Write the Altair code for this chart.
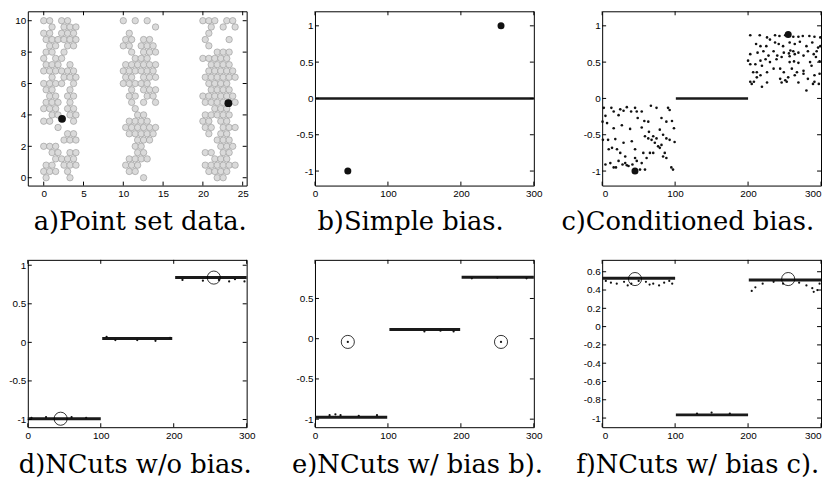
import altair as alt
import pandas as pd

W = 221
H1 = 176
H2 = 169

# ---------------- panel a: point set (occupancy of a lattice) ----
A_Y_ROWS = [10.0, 9.6, 9.2, 8.8, 8.4, 8.0, 7.6, 7.2, 6.8, 6.4, 6.0, 5.6, 5.2,
            4.8, 4.4, 4.0, 3.6, 3.2, 2.8, 2.4, 2.0, 1.6, 1.2, 0.8, 0.4, 0.0]
A_BAND_LEFT = [0, 10, 20]
A_COL_STEP = 0.75
A_ROW_SHIFT = 0.3
A_BAND_1 = ["XX.XX.", ".X.XXX", "XX.XXX", "XXXXXX", ".XX.XX", "XX.X..", "X.XX..",
            "XXX.X.", "XXXXXX", ".X.XXX", "XXXX.X", "XX..X.", ".XX.XX", "XXX.X.",
            "XXX.XX", ".XX.XX", "XX...X", "..X...", "....XX", "...XXX", "XXX...",
            ".XX.XX", "..XXXX", "XX.XXX", "XXX.X.", "X...X."]
A_BAND_2 = ["X.X.X.", ".....X", ".X....", "XX.XX.", "XX.XXX", ".X.XXX", "..XXX.",
            "XXXXXX", "XXXXXX", "XX.XXX", "XXXXX.", ".X.XXX", ".XX.XX", ".X.X.X",
            "..X...", "..XX..", ".XXXX.", "XXXXXX", ".XXXXX", "..XXX.", "..XX..",
            "..XX..", ".XXXX.", "XXX...", ".XX...", "...X.."]
A_BAND_3 = ["XXX.XX", ".X.X.X", ".X....", "X...X.", ".X....", "..XXX.", "XXXXX.",
            ".XXXX.", ".XXXXX", "XXXXXX", ".XXXX.", ".XXXX.", "XXXXXX", "XXXXXX",
            "..XXX.", "XXXXX.", "XX.XX.", "XX.XXX", ".X.XX.", "..XXX.", "...XXX",
            "XX.XX.", "..XXX.", "XXXXXX", ".XXXX.", "..XX.."]
A_BIG_X = [2.3, 23.2]
A_BIG_Y = [3.75, 4.75]

# ---------------- panel b: simple bias ----------------
B_BIG_X = [45, 255]
B_BIG_Y = [-1.0, 1.0]
B_ZERO_X1 = [0]
B_ZERO_X2 = [300]
B_ZERO_Y = [0.0]

# ---------------- panel c: conditioned bias ----------------
C_LEFT_X = [2.2, 12.6, 24.8, 33.8, 45.1, 54.2, 66.8, 74.5, 90.3, 92.5,
            4.5, 15.8, 22.5, 29.3, 39.7, 47.4, 57.8, 63.2, 81.3, 88.0, 95.7,
            0.5, 6.7, 15.8, 27.0, 38.3, 48.7, 54.2, 64.1, 70.0, 74.5, 79.0, 83.5, 98.4,
            1.0, 8.1, 18.0, 29.3, 40.6, 58.7, 63.2, 67.7, 72.2, 76.7, 81.3, 88.0, 92.5, 99.3,
            9.0, 13.5, 20.3, 24.8, 31.6, 45.1, 56.4, 65.5, 70.0, 79.0, 83.5, 85.8, 88.0,
            4.5, 11.2, 15.8, 22.5, 31.6, 33.8, 45.1, 47.4, 54.2, 51.9, 60.9, 94.8, 97.1,
            18.9, 27.9, 36.1, 41.5, 58.7]
C_LEFT_Y = [-0.13, -0.13, -0.15, -0.12, -0.13, -0.18, -0.10, -0.13, -0.13, -0.16,
            -0.24, -0.18, -0.23, -0.17, -0.18, -0.18, -0.31, -0.32, -0.27, -0.32, -0.31,
            -0.32, -0.34, -0.41, -0.37, -0.42, -0.27, -0.40, -0.46, -0.52, -0.55, -0.43, -0.50, -0.41,
            -0.57, -0.57, -0.56, -0.61, -0.59, -0.52, -0.55, -0.57, -0.61, -0.66, -0.64, -0.55, -0.57, -0.60,
            -0.70, -0.68, -0.70, -0.75, -0.80, -0.70, -0.75, -0.75, -0.75, -0.68, -0.80, -0.75, -0.82,
            -0.91, -0.89, -0.95, -0.86, -0.89, -0.92, -0.82, -0.86, -0.89, -0.98, -0.82, -0.95, -0.98,
            -0.95, -0.91, -0.93, -0.91, -0.98]
C_RIGHT_X = [203, 216, 226, 237, 243, 251, 262, 269, 275, 284, 291, 299,
             211, 217, 225, 230, 237, 242, 248, 257, 264, 271, 280, 288, 296, 299,
             203, 213, 221, 228, 235, 240, 249, 262, 264, 269, 276, 282, 290, 294,
             200, 203, 210, 217, 224, 230, 239, 246, 257, 263, 269, 285, 293, 298,
             207, 212, 219, 226, 235, 244, 249, 260, 267, 276, 287, 291, 298,
             203, 208, 212, 217, 244, 251, 255, 264, 276, 282, 291,
             205, 219, 226, 246, 253, 269, 280, 289, 297,
             258, 256, 257]
C_RIGHT_Y = [0.87, 0.87, 0.84, 0.87, 0.86, 0.87, 0.85, 0.85, 0.86, 0.86, 0.85, 0.84,
             0.75, 0.72, 0.72, 0.81, 0.77, 0.75, 0.72, 0.77, 0.75, 0.78, 0.72, 0.77, 0.70, 0.72,
             0.61, 0.63, 0.65, 0.59, 0.65, 0.59, 0.63, 0.65, 0.61, 0.63, 0.59, 0.65, 0.61, 0.65,
             0.52, 0.47, 0.47, 0.52, 0.54, 0.50, 0.54, 0.57, 0.50, 0.51, 0.49, 0.50, 0.57, 0.51,
             0.36, 0.36, 0.45, 0.36, 0.41, 0.41, 0.36, 0.41, 0.36, 0.38, 0.45, 0.32, 0.34,
             0.23, 0.23, 0.29, 0.32, 0.27, 0.25, 0.29, 0.32, 0.34, 0.27, 0.23,
             0.20, 0.16, 0.22, 0.22, 0.23, 0.22, 0.11, 0.20, 0.20,
             0.66, 0.62, 0.58]
C_MID_X1 = [101]
C_MID_X2 = [200]
C_MID_Y = [0.0]
C_BIG_X = [45, 255]
C_BIG_Y = [-1.0, 0.88]

# ---------------- panel d: NCuts without bias ----------------
D_BAND_X1 = [0, 102, 202]
D_BAND_X2 = [100, 198, 300]
D_BAND_Y = [-0.99, 0.05, 0.84]
D_SPECK_X = [5, 25, 60, 80, 108, 120, 150, 175, 195, 212, 240, 262, 276, 284, 297]
D_SPECK_Y = [-0.98, -0.97, -0.97, -0.98, 0.07, 0.03, 0.03, 0.02, 0.06, 0.81, 0.80, 0.81, 0.79, 0.82, 0.79]
D_RING_X = [45, 255]
D_RING_Y = [-0.99, 0.84]

# ---------------- panel e: NCuts with bias b ----------------
E_BAND_X1 = [0, 102, 201]
E_BAND_X2 = [99, 199, 300]
E_BAND_Y = [-0.975, 0.115, 0.765]
E_SPECK_X = [20, 28, 35, 60, 85, 150, 172, 190, 215, 250, 290]
E_SPECK_Y = [-0.95, -0.94, -0.95, -0.96, -0.95, 0.09, 0.10, 0.09, 0.75, 0.76, 0.75]
E_RING_X = [45, 255]
E_RING_Y = [-0.04, -0.04]

# ---------------- panel f: NCuts with bias c ----------------
F_BAND_X1 = [0, 101, 201]
F_BAND_X2 = [100, 200, 300]
F_BAND_Y = [0.53, -0.965, 0.51]
F_SPECK_X = [5, 12, 20, 30, 35, 40, 50, 60, 65, 70, 78, 85, 92, 96,
             130, 150, 175,
             205, 210, 220, 235, 248, 270, 280, 288, 290, 295, 298]
F_SPECK_Y = [0.50, 0.48, 0.47, 0.49, 0.45, 0.47, 0.50, 0.49, 0.46, 0.47, 0.45, 0.48, 0.50, 0.47,
             -0.95, -0.94, -0.95,
             0.39, 0.43, 0.47, 0.49, 0.47, 0.48, 0.45, 0.42, 0.38, 0.40, 0.47]
F_RING_X = [45, 255]
F_RING_Y = [0.52, 0.52]

# ---------------- axes ----------------
A_XTICKS = [0, 5, 10, 15, 20, 25]
A_YTICKS = [0, 2, 4, 6, 8, 10]
X300_TICKS = [0, 100, 200, 300]
BC_YTICKS = [-1, -0.5, 0, 0.5, 1]
D_YTICKS = [-1, -0.5, 0, 0.5, 1]
E_YTICKS = [-1, -0.5, 0, 0.5]
F_YTICKS = [-1, -0.8, -0.6, -0.4, -0.2, 0, 0.2, 0.4, 0.6]

CAPTIONS = ["a)Point set data.", "b)Simple bias.", "c)Conditioned bias.",
            "d)NCuts w/o bias.", "e)NCuts w/ bias b).", "f)NCuts w/ bias c)."]

LBL = "replace(format(datum.value, '~g'), '\u2212', '-')"
CAP_SIZE = 26


def xaxis(vals, cap, tx, ty, flush=False):
    return alt.Axis(values=vals, title=cap, titleX=tx, titleY=ty, titleAlign="center",
                    titleBaseline="alphabetic", labelExpr=LBL, ticks=False, domain=False,
                    grid=False, labelPadding=3, labelFlush=flush, labelOverlap=False,
                    titleFont="DejaVu Serif", titleFontSize=CAP_SIZE, titleFontWeight="normal",
                    titleColor="black", labelFont="Liberation Sans", labelFontSize=10,
                    labelColor="black")


def yaxis(vals):
    return alt.Axis(values=vals, title=None, labelExpr=LBL, ticks=False, domain=False,
                    grid=False, labelPadding=2, labelFlush=False, labelOverlap=False,
                    labelFont="Liberation Sans", labelFontSize=10, labelColor="black")


def tick_layers(xv, yv, xs, ys, xa, ya, h):
    tx = pd.DataFrame({"v": xv})
    ty = pd.DataFrame({"v": yv})
    out = []
    for y0, y1 in [(h, h - 4), (0, 4)]:
        out.append(alt.Chart(tx).mark_rule(color="black", strokeWidth=1).encode(
            x=alt.X("v:Q", scale=xs, axis=xa), y=alt.value(y0), y2=alt.value(y1)))
    for x0, x1 in [(0, 4), (W, W - 4)]:
        out.append(alt.Chart(ty).mark_rule(color="black", strokeWidth=1).encode(
            y=alt.Y("v:Q", scale=ys, axis=ya), x=alt.value(x0), x2=alt.value(x1)))
    return out


def pts(chart, xs, ys, xa, ya):
    return chart.encode(x=alt.X("x:Q", scale=xs, axis=xa), y=alt.Y("y:Q", scale=ys, axis=ya))


def rules(df, xs, ys, xa, ya, width):
    return alt.Chart(df).mark_rule(color="#1a1a1a", strokeWidth=width).encode(
        x=alt.X("x:Q", scale=xs, axis=xa), x2="x2:Q", y=alt.Y("y:Q", scale=ys, axis=ya))


# ---- panel a
rows = []
for left, band in zip(A_BAND_LEFT, [A_BAND_1, A_BAND_2, A_BAND_3]):
    for r, (yv, s) in enumerate(zip(A_Y_ROWS, band)):
        for c, ch in enumerate(s):
            if ch == "X":
                rows.append({"x": left + c * A_COL_STEP + (A_ROW_SHIFT if r % 2 else 0), "y": yv})
a_df = pd.DataFrame(rows)
xs_a = alt.Scale(domain=[-2, 25.5], nice=False, zero=False)
ys_a = alt.Scale(domain=[-0.5, 10.6], nice=False, zero=False)
xa_a = xaxis(A_XTICKS, CAPTIONS[0], 113, 44)
ya_a = yaxis(A_YTICKS)
pa = alt.layer(
    pts(alt.Chart(a_df).mark_circle(size=42, fill="#dadada", stroke="#959595",
                                    strokeWidth=0.6, opacity=1), xs_a, ys_a, xa_a, ya_a),
    pts(alt.Chart(pd.DataFrame({"x": A_BIG_X, "y": A_BIG_Y})).mark_circle(
        size=62, color="#111", opacity=1), xs_a, ys_a, xa_a, ya_a),
    *tick_layers(A_XTICKS, A_YTICKS, xs_a, ys_a, xa_a, ya_a, H1),
).properties(width=W, height=H1)

# ---- panel b
xs300 = alt.Scale(domain=[0, 300], nice=False, zero=False)
ys_b = alt.Scale(domain=[-1.2, 1.2], nice=False, zero=False)
xa_b = xaxis(X300_TICKS, CAPTIONS[1], 96, 44)
ya_b = yaxis(BC_YTICKS)
pb = alt.layer(
    rules(pd.DataFrame({"x": B_ZERO_X1, "x2": B_ZERO_X2, "y": B_ZERO_Y}), xs300, ys_b, xa_b, ya_b, 2.5),
    pts(alt.Chart(pd.DataFrame({"x": B_BIG_X, "y": B_BIG_Y})).mark_circle(
        size=50, color="#111", opacity=1), xs300, ys_b, xa_b, ya_b),
    *tick_layers(X300_TICKS, BC_YTICKS, xs300, ys_b, xa_b, ya_b, H1),
).properties(width=W, height=H1)

# ---- panel c
xa_c = xaxis(X300_TICKS, CAPTIONS[2], 86, 44, flush=True)
ya_c = yaxis(BC_YTICKS)
c_df = pd.DataFrame({"x": C_LEFT_X + C_RIGHT_X, "y": C_LEFT_Y + C_RIGHT_Y})
pc = alt.layer(
    rules(pd.DataFrame({"x": C_MID_X1, "x2": C_MID_X2, "y": C_MID_Y}), xs300, ys_b, xa_c, ya_c, 2.5),
    pts(alt.Chart(c_df).mark_circle(size=7, color="#111", opacity=1), xs300, ys_b, xa_c, ya_c),
    pts(alt.Chart(pd.DataFrame({"x": C_BIG_X, "y": C_BIG_Y})).mark_circle(
        size=50, color="#111", opacity=1), xs300, ys_b, xa_c, ya_c),
    *tick_layers(X300_TICKS, BC_YTICKS, xs300, ys_b, xa_c, ya_c, H1),
).properties(width=W, height=H1)


def ncut_panel(bx1, bx2, by, sx, sy, rx, ry, ydom, yticks, cap, tx, center_dots=False, flush=False):
    ys = alt.Scale(domain=ydom, nice=False, zero=False)
    xa = xaxis(X300_TICKS, cap, tx, 46, flush=flush)
    ya = yaxis(yticks)
    layers = [
        rules(pd.DataFrame({"x": bx1, "x2": bx2, "y": by}), xs300, ys, xa, ya, 3),
        pts(alt.Chart(pd.DataFrame({"x": sx, "y": sy})).mark_circle(size=5, color="#111", opacity=1),
            xs300, ys, xa, ya),
        pts(alt.Chart(pd.DataFrame({"x": rx, "y": ry})).mark_point(
            shape="circle", filled=False, color="black", strokeWidth=0.8, size=175, opacity=1),
            xs300, ys, xa, ya),
    ]
    if center_dots:
        layers.append(pts(alt.Chart(pd.DataFrame({"x": rx, "y": ry})).mark_circle(
            size=5, color="#111", opacity=1), xs300, ys, xa, ya))
    layers += tick_layers(X300_TICKS, yticks, xs300, ys, xa, ya, H2)
    return alt.layer(*layers).properties(width=W, height=H2)


pd_ = ncut_panel(D_BAND_X1, D_BAND_X2, D_BAND_Y, D_SPECK_X, D_SPECK_Y, D_RING_X, D_RING_Y,
                 [-1.1, 1.07], D_YTICKS, CAPTIONS[3], 108)
pe = ncut_panel(E_BAND_X1, E_BAND_X2, E_BAND_Y, E_SPECK_X, E_SPECK_Y, E_RING_X, E_RING_Y,
                [-1.1, 0.98], E_YTICKS, CAPTIONS[4], 103, center_dots=True)
pf = ncut_panel(F_BAND_X1, F_BAND_X2, F_BAND_Y, F_SPECK_X, F_SPECK_Y, F_RING_X, F_RING_Y,
                [-1.1, 0.73], F_YTICKS, CAPTIONS[5], 96, flush=True)

row1 = alt.hconcat(pa, pb, pc, spacing=69, bounds="flush")
row2 = alt.hconcat(pd_, pe, pf, spacing=69, bounds="flush")
chart = alt.vconcat(row1, row2, spacing=24,
                    padding={"left": 0, "top": 0, "right": 0, "bottom": 0},
                    background="white").configure_view(
    stroke="black", strokeWidth=1
)

chart.save("out.html", embed_options={"renderer": "svg", "actions": False})
